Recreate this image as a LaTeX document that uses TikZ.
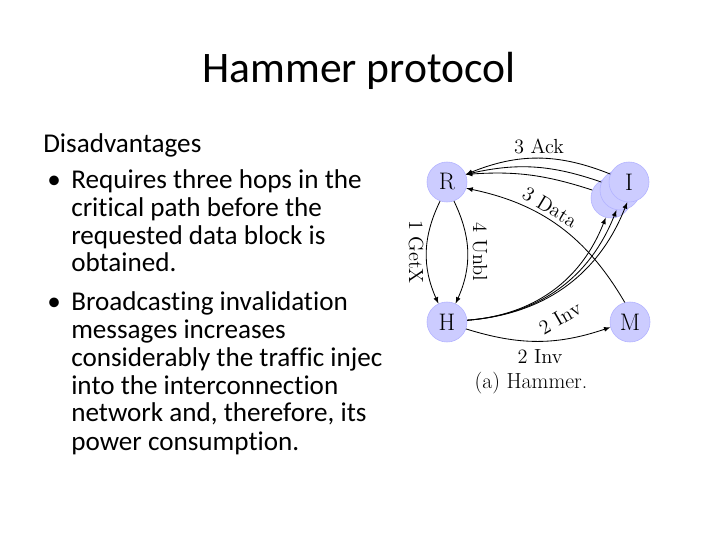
\documentclass[tikz,border=0pt]{standalone}
\usepackage{fontspec}
\usepackage{tikz}
\newfontfamily\slidefont[Ligatures=NoCommon]{Carlito}

\begin{document}
\begin{tikzpicture}[x=0.025cm,y=-0.025cm,
	state/.style={circle,fill=blue!20,draw=blue!30,minimum size=1cm,inner sep=0pt,font=\fontsize{17}{19}\selectfont},
	msg/.style={-latex,line width=0.6pt},
	lbl/.style={font=\fontsize{14.5}{16}\selectfont,inner sep=1pt},
	line/.style={anchor=base west,inner sep=0pt,font=\slidefont\fontsize{19.3}{22}\selectfont}]

	\useasboundingbox (0,0) rectangle (720,540);

	% slide text
	\node[font=\slidefont\fontsize{31}{36}\selectfont,anchor=base,inner sep=0pt] (title) at (359,82) {Hammer protocol};
	\node[line] (head) at (43,152) {Disadvantages};
	\foreach \y/\t [count=\i] in {188/Requires three hops in the, 216.5/critical path before the, 244/requested data block is, 271.5/obtained.,
		310.5/Broadcasting invalidation, 338/messages increases, 366.5/considerably the traffic injec,
		394/into the interconnection, 421.5/{network and, therefore, its}, 450/power consumption.}
		\node[line] (l\i) at (71,\y) {\t};
	\node[line] (b1) at (47,188) {\textbullet};
	\node[line] (b2) at (47,310.5) {\textbullet};

	% nodes
	\node[state] (R) at (447,182) {R};
	\node[state] (I3) at (611,198) {};
	\node[state] (I2) at (620,190) {};
	\node[state] (I) at (629,182) {I};
	\node[state] (H) at (447,322) {H};
	\node[state] (M) at (630,322) {M};

	% messages
	\draw[msg] (R.-110) to[bend right=25] (H.115);
	\draw[msg] (R.-70) to[bend left=25] (H.65);
	\draw[msg] (I.157) to[bend right=22] (R.22);
	\draw[msg] (I2.157) to[bend right=16] (R.22);
	\draw[msg] (I3.157) to[bend right=11] (R.22);
	\draw[msg] (M.105) to[bend right=24] (R.-18);
	\draw[msg] (H.5) to[bend right=32] (I3.-105);
	\draw[msg] (H.5) to[bend right=32] (I2.-100);
	\draw[msg] (H.5) to[bend right=32] (I.-95);
	\draw[msg] (H.-20) to[bend right=18] (M.195);

	% labels
	\node[lbl] (ack) at (539,146) {3 Ack};
	\node[lbl,rotate=-31] (data) at (550,207) {3 Data};
	\node[lbl,rotate=-90] (getx) at (416,252) {1 GetX};
	\node[lbl,rotate=-90] (unbl) at (480,252) {4 Unbl};
	\node[lbl,rotate=30] (inv1) at (560,318) {2 Inv};
	\node[lbl] (inv2) at (540,357) {2 Inv};
	\node[font=\fontsize{15.5}{18}\selectfont,inner sep=1pt] (cap) at (531,383) {(a) Hammer.};

\end{tikzpicture}
\end{document}
